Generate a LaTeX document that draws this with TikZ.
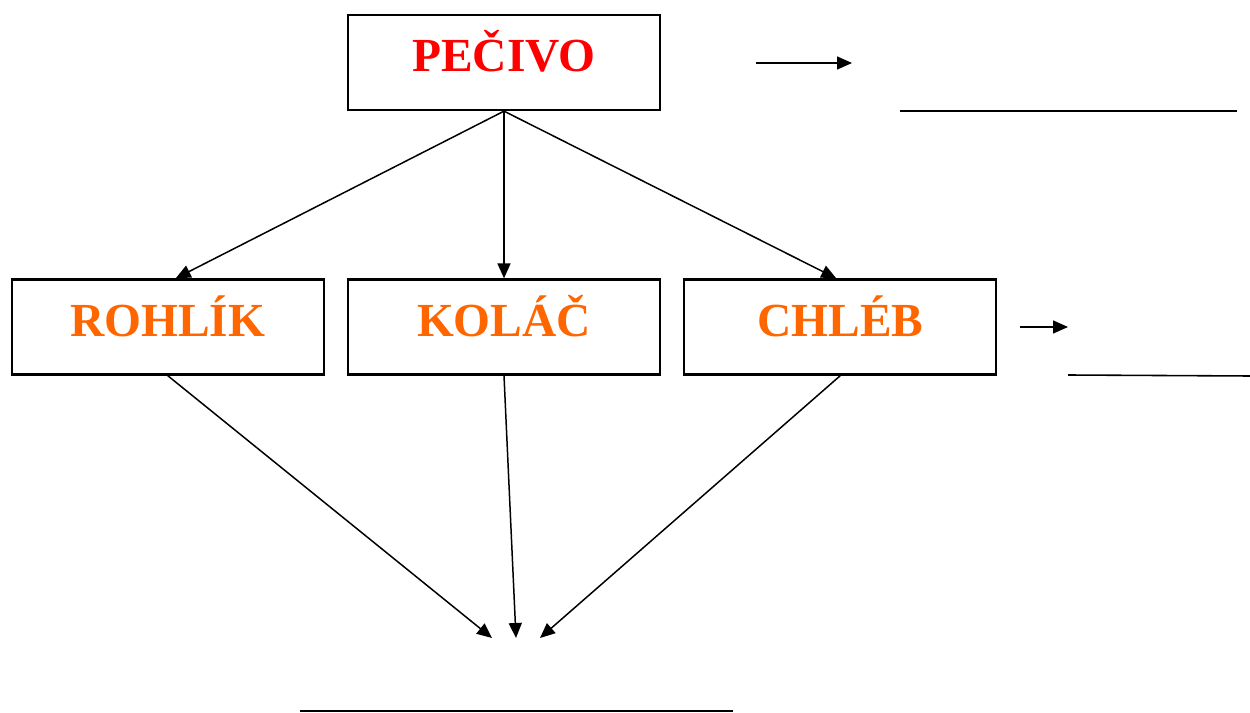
\documentclass[tikz,border=0pt]{standalone}
\usepackage{fontspec}
\setmainfont{Liberation Serif}
\usepackage{xcolor}
\usetikzlibrary{arrows.meta,positioning}
\definecolor{headred}{HTML}{FF0000}
\definecolor{kindorange}{HTML}{FF6600}

\begin{document}
\begin{tikzpicture}[x=0.2mm,y=-0.2mm,node distance=4.4mm,>={Triangle[length=3mm,width=2.6mm]},font=\bfseries\fontsize{27}{32}\selectfont]

\tikzset{
b/.style={
    draw=black,
    line width=1.3pt,
    minimum width=62.4mm,
    minimum height=19mm,
    inner sep=0pt,
    text height=22pt,
    text depth=11.2pt,
    align=center
},
a/.style={->,line width=0.85pt},
blank/.style={line width=0.9pt}
}

\useasboundingbox (0,0) rectangle (1250,713);

\node[b,text=headred] (pecivo) at (504,62.5) {PEČIVO};
\node[b,text=kindorange] (kolac) at (504,327) {KOLÁČ};
\node[b,text=kindorange,left=of kolac] (rohlik) {ROHLÍK};
\node[b,text=kindorange,right=of kolac] (chleb) {CHLÉB};

% free ends
\coordinate (t1) at (492,638);
\coordinate (t2) at (516,638);
\coordinate (t3) at (540,638);
\coordinate (p1) at (756,63);
\coordinate (p2) at (852,63);
\coordinate (c1) at (1020,327);
\coordinate (c2) at (1068,327);

\draw[a] (pecivo.south) -- ([xshift=1.6mm]rohlik.north);
\draw[a] (pecivo.south) -- (kolac.north);
\draw[a] (pecivo.south) -- ([xshift=-0.8mm]chleb.north);

\draw[a] (rohlik.south) -- (t1);
\draw[a] (kolac.south) -- (t2);
\draw[a] (chleb.south) -- (t3);

\draw[a] (p1) -- (p2);
\draw[a] (c1) -- (c2);

% lines to fill in
\draw[blank] (900,111) -- (1237,111);
\draw[blank] (1068,375) -- (1250,376);
\draw[blank] (300,711) -- (733,711);

\end{tikzpicture}
\end{document}
